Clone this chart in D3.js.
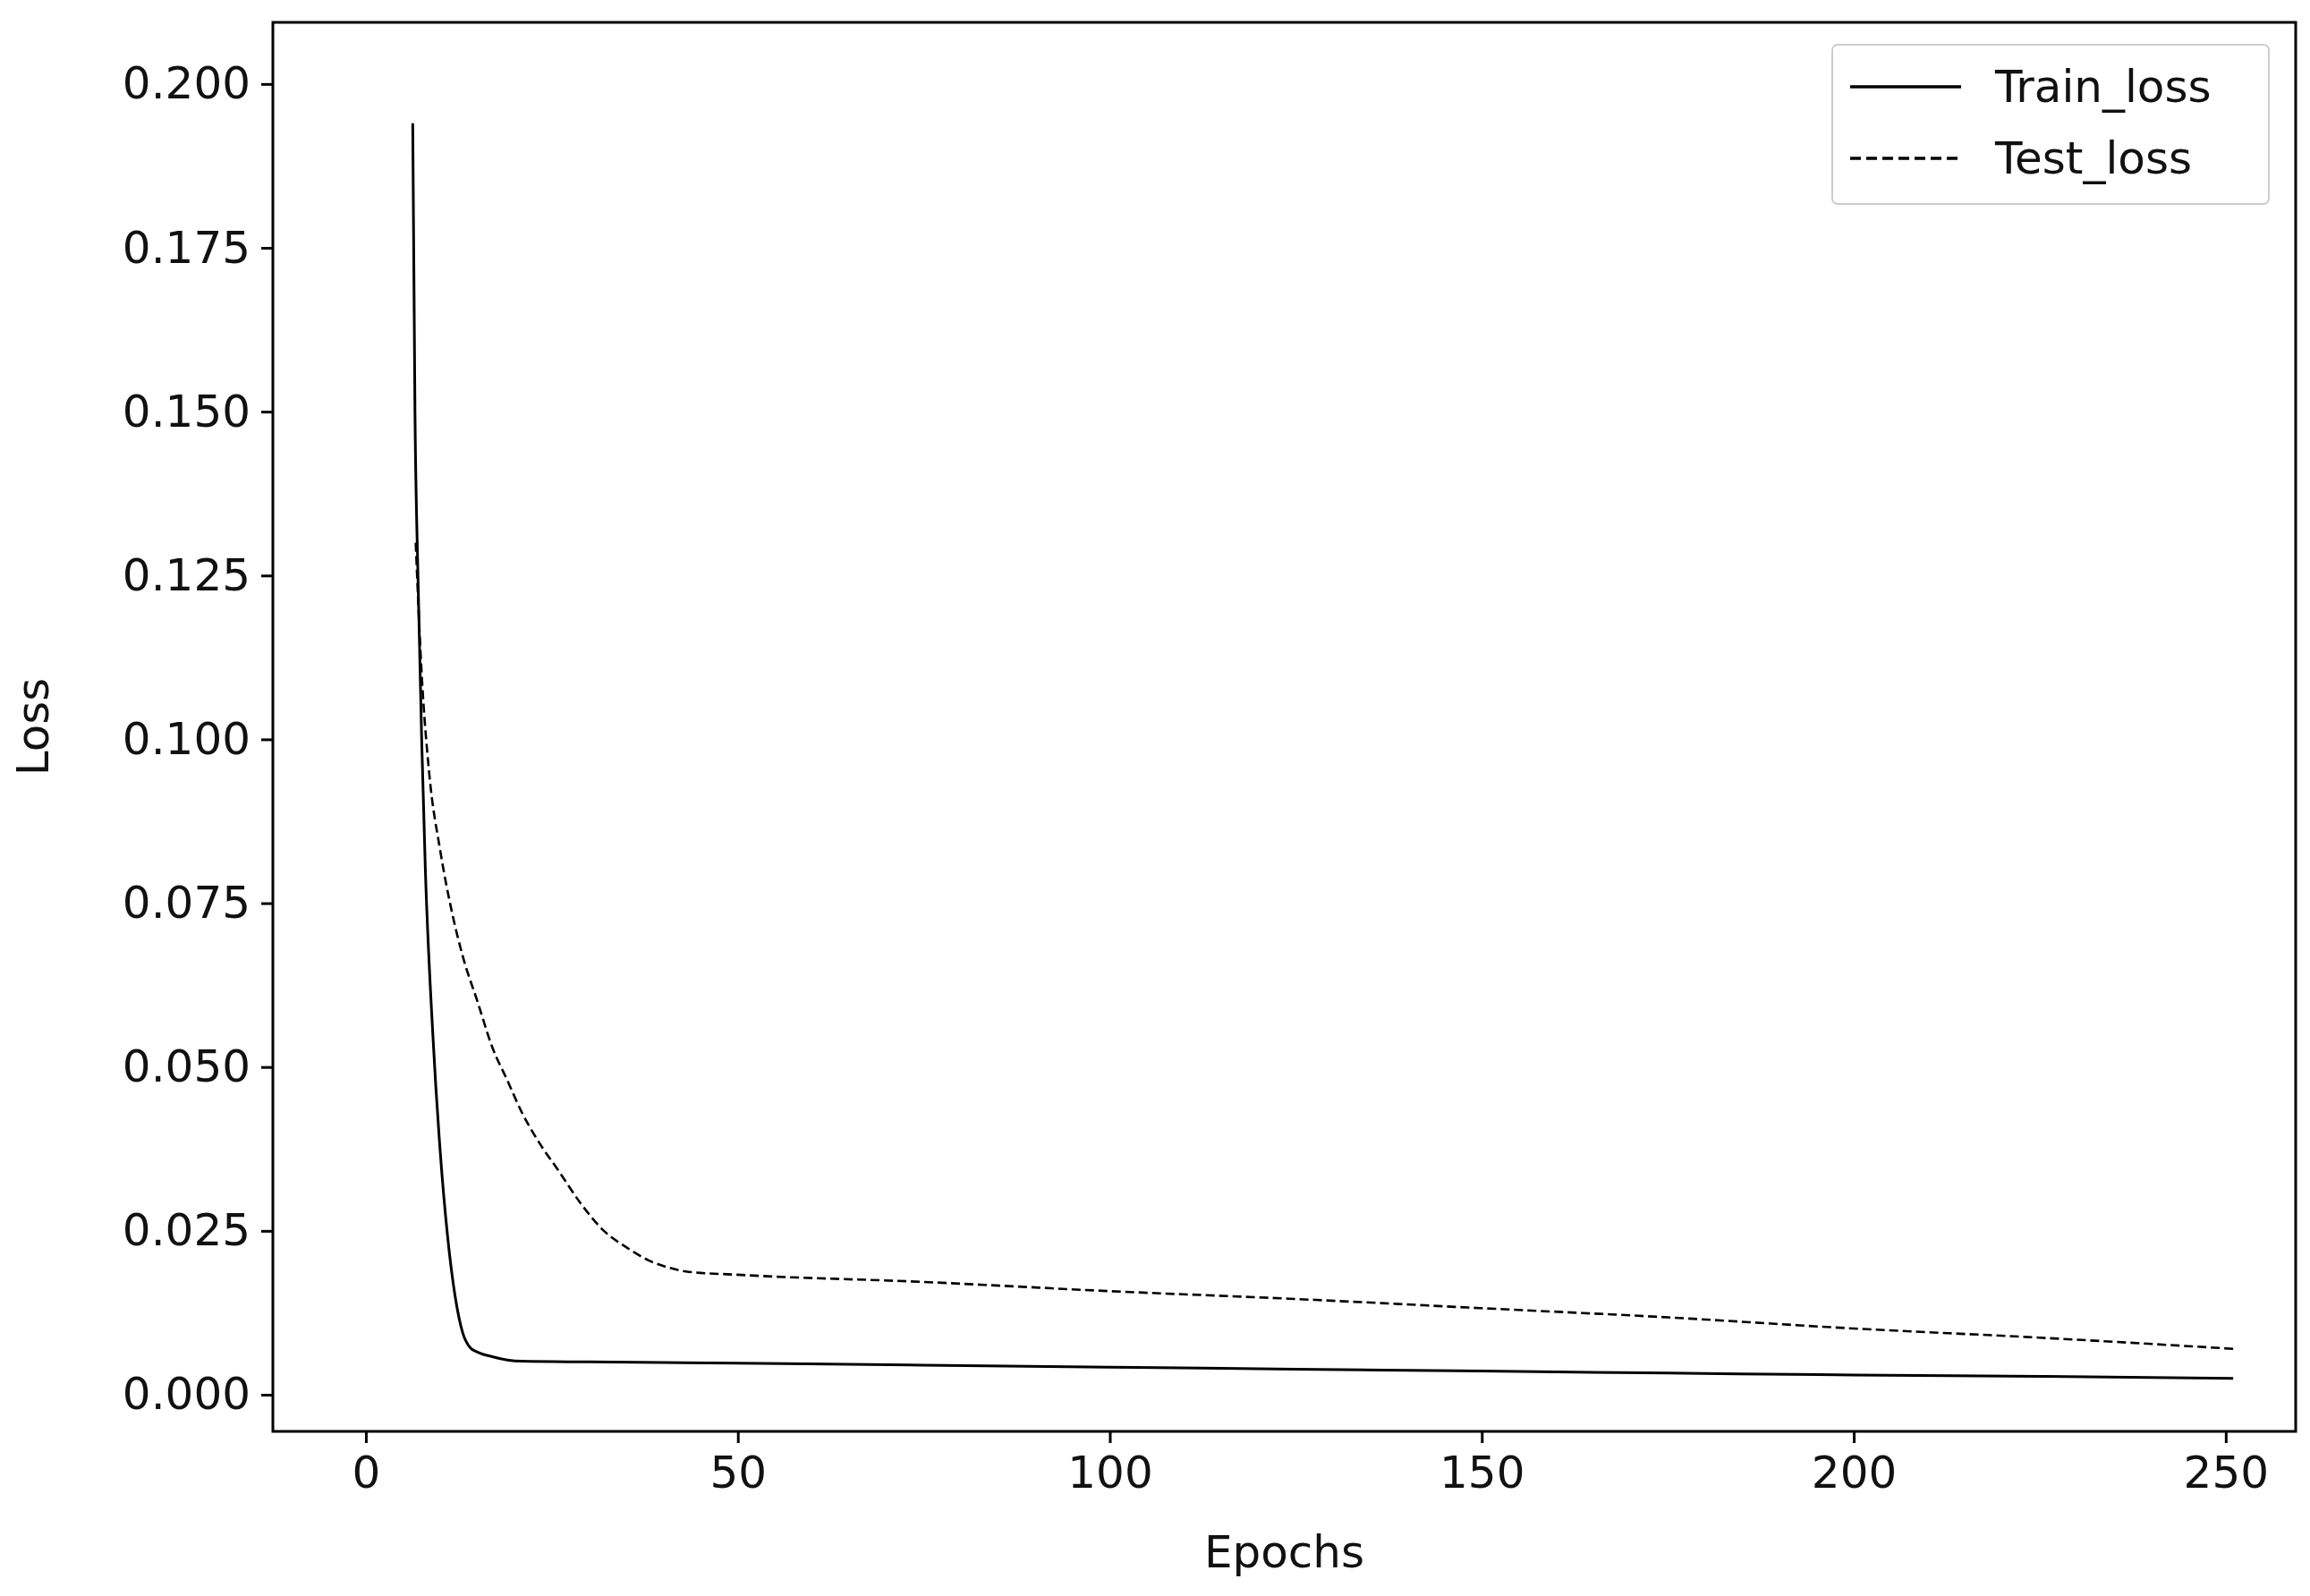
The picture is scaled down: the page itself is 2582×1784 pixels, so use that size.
<!DOCTYPE html>
<html><head><meta charset="utf-8">
<script src="https://cdn.jsdelivr.net/npm/d3@7"></script>
<style>body{margin:0;background:#fff}text{font-family:"DejaVu Sans",sans-serif}</style>
</head><body><div id="chart"></div>
<script>
const trainEpochs = [6.3, 6.6, 7, 7.5, 8, 9, 10, 11, 12, 13, 14, 15, 17, 19, 21, 30, 50, 75, 100, 125, 150, 175, 200, 225, 251];
const trainLoss = [0.194, 0.15, 0.125, 0.1, 0.08, 0.055, 0.037, 0.024, 0.015, 0.0095, 0.0072, 0.0065, 0.0058, 0.0053, 0.0051, 0.005, 0.0048, 0.0045, 0.0042, 0.0039, 0.0036, 0.0033, 0.003, 0.0028, 0.0025];
const testEpochs = [6.7, 7.5, 8.5, 10, 11.5, 13, 15, 17, 19, 21, 23, 26, 29, 32, 35, 38, 41, 43, 50, 75, 100, 125, 150, 175, 200, 225, 251];
const testLoss = [0.13, 0.11, 0.095, 0.083, 0.074, 0.067, 0.06, 0.053, 0.048, 0.043, 0.039, 0.034, 0.029, 0.025, 0.0225, 0.0205, 0.0193, 0.0188, 0.0183, 0.0172, 0.0158, 0.0146, 0.0132, 0.0118, 0.0101, 0.0087, 0.007];
const xTicks = [0, 50, 100, 150, 200, 250];
const yTicks = [0, 0.025, 0.05, 0.075, 0.1, 0.125, 0.15, 0.175, 0.2];

const W = 2582, H = 1784;
const m = {left: 305, right: 16, top: 25, bottom: 184};
const FS = 50;
const svg = d3.select("#chart").append("svg").attr("width", W).attr("height", H);
const x = d3.scaleLinear().domain([-12.5, 259.4]).range([m.left, W - m.right]);
const y = d3.scaleLinear().domain([-0.0056, 0.2094]).range([H - m.bottom, m.top]);

const xAxis = svg.append("g").attr("transform", `translate(0,${H - m.bottom})`)
  .call(d3.axisBottom(x).tickValues(xTicks).tickFormat(d3.format("d")).tickSize(13).tickPadding(14));
const yAxis = svg.append("g").attr("transform", `translate(${m.left},0)`)
  .call(d3.axisLeft(y).tickValues(yTicks).tickFormat(d3.format(".3f")).tickSize(13).tickPadding(12));
[xAxis, yAxis].forEach(a => {
  a.selectAll("path").remove();
  a.selectAll("line").attr("stroke", "#000").attr("stroke-width", 3);
  a.selectAll("text").attr("font-size", FS).attr("fill", "#111");
});
svg.append("rect").attr("x", m.left).attr("y", m.top)
  .attr("width", W - m.left - m.right).attr("height", H - m.top - m.bottom)
  .attr("fill", "none").attr("stroke", "#000").attr("stroke-width", 3);

svg.append("text").attr("x", (m.left + W - m.right) / 2).attr("y", 1752)
  .attr("text-anchor", "middle").attr("font-size", FS).attr("fill", "#111").text("Epochs");
svg.append("text").attr("transform", `translate(54,${(m.top + H - m.bottom) / 2}) rotate(-90)`)
  .attr("text-anchor", "middle").attr("font-size", FS).attr("fill", "#111").text("Loss");

const line = d3.line().x(d => x(d[0])).y(d => y(d[1])).curve(d3.curveMonotoneX);
svg.append("path").datum(d3.zip(trainEpochs, trainLoss)).attr("d", line)
  .attr("fill", "none").attr("stroke", "#000").attr("stroke-width", 3);
svg.append("path").datum(d3.zip(testEpochs, testLoss)).attr("d", line)
  .attr("fill", "none").attr("stroke", "#000").attr("stroke-width", 2.6).attr("stroke-dasharray", "10,5");

const lg = svg.append("g");
lg.append("rect").attr("x", 2048).attr("y", 50).attr("width", 488).attr("height", 178).attr("rx", 6)
  .attr("fill", "#fff").attr("stroke", "#ccc").attr("stroke-width", 2);
[["Train_loss", null], ["Test_loss", "12,6"]].forEach(([name, dash], i) => {
  const yy = 97 + i * 80;
  lg.append("line").attr("x1", 2068).attr("x2", 2192).attr("y1", yy).attr("y2", yy)
    .attr("stroke", "#000").attr("stroke-width", 3.5).attr("stroke-dasharray", dash);
  lg.append("text").attr("x", 2230).attr("y", yy + 17).attr("font-size", FS).attr("fill", "#111").text(name);
});
</script></body></html>
